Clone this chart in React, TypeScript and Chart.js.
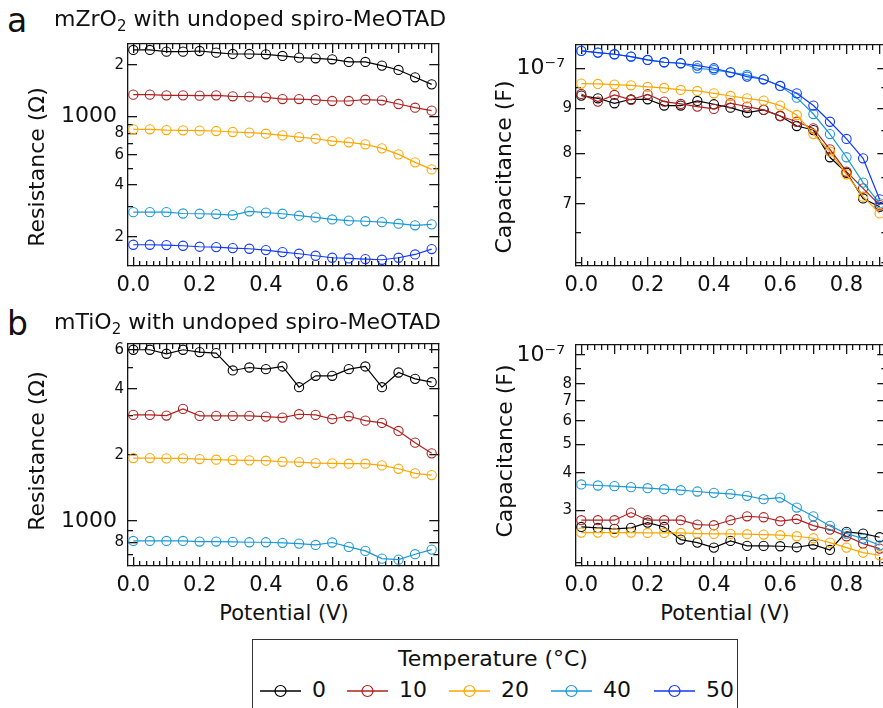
import React, { useEffect, useRef } from "react";
import { Chart, registerables } from "chart.js";

Chart.register(...registerables);

const FONT = "'DejaVu Sans', sans-serif";
const INK = "#141414";

// ---------------- data ----------------
const potential = [0, 0.05, 0.1, 0.15, 0.2, 0.25, 0.3, 0.35, 0.4, 0.45, 0.5, 0.55, 0.6, 0.65, 0.7, 0.75, 0.8, 0.85, 0.9];
const temperatureLabels = ["0", "10", "20", "40", "50"];
const seriesColors = ["#000000", "#b0201f", "#ffa600", "#1b98d6", "#1238ff"];

// a: mZrO2 – resistance (Ω)
const zrRes0 = [2446, 2446, 2392, 2392, 2413, 2360, 2318, 2318, 2308, 2257, 2207, 2187, 2158, 2083, 2083, 1983, 1871, 1695, 1543];
const zrRes10 = [1344, 1344, 1331, 1331, 1326, 1331, 1314, 1308, 1296, 1267, 1267, 1251, 1234, 1234, 1256, 1245, 1185, 1128, 1084];
const zrRes20 = [844, 844, 836, 833, 829, 825, 814, 807, 796, 778, 761, 744, 721, 709, 690, 654, 603, 542, 493];
const zrRes40 = [278, 278, 278, 273, 272, 271, 267, 281, 276, 272, 265, 259, 252, 248, 246, 243, 238, 233, 236];
const zrRes50 = [179.5, 179.5, 178.7, 177.1, 174.8, 174, 171.6, 170.1, 167.1, 162.7, 159.1, 154.9, 150.8, 149.4, 148.1, 146.8, 150.8, 157.6, 169.4];

// a: mZrO2 – capacitance (F)
const zrCap0 = [9.307e-8, 9.242e-8, 9.122e-8, 9.218e-8, 9.218e-8, 9.067e-8, 9.067e-8, 9.178e-8, 9.098e-8, 9.018e-8, 8.901e-8, 8.964e-8, 8.822e-8, 8.593e-8, 8.503e-8, 7.916e-8, 7.601e-8, 7.105e-8, 6.951e-8];
const zrCap10 = [9.348e-8, 9.162e-8, 9.323e-8, 9.202e-8, 9.34e-8, 9.162e-8, 9.106e-8, 9.043e-8, 8.988e-8, 9.122e-8, 9.043e-8, 8.964e-8, 8.822e-8, 8.69e-8, 8.54e-8, 8.083e-8, 7.623e-8, 7.296e-8, 6.982e-8];
const zrCap20 = [9.605e-8, 9.597e-8, 9.58e-8, 9.563e-8, 9.521e-8, 9.496e-8, 9.447e-8, 9.422e-8, 9.364e-8, 9.298e-8, 9.242e-8, 9.186e-8, 9.067e-8, 8.845e-8, 8.414e-8, 8.034e-8, 7.57e-8, 7.137e-8, 6.831e-8];
const zrCap40 = [1.0466e-7, 1.042e-7, 1.0375e-7, 1.0312e-7, 1.0221e-7, 1.0159e-7, 1.0132e-7, 1.0e-7, 9.956e-8, 9.895e-8, 9.826e-8, 9.715e-8, 9.546e-8, 9.258e-8, 8.868e-8, 8.414e-8, 7.916e-8, 7.406e-8, 7.013e-8];
const zrCap50 = [1.0466e-7, 1.042e-7, 1.0375e-7, 1.0312e-7, 1.0221e-7, 1.0159e-7, 1.0132e-7, 1.007e-7, 1.0e-7, 9.895e-8, 9.783e-8, 9.715e-8, 9.546e-8, 9.364e-8, 9.067e-8, 8.69e-8, 8.306e-8, 7.895e-8, 7.087e-8];

// b: mTiO2 – resistance (Ω)
const tiRes0 = [6016, 6016, 5768, 6016, 5870, 5809, 4841, 4995, 4909, 5048, 4062, 4577, 4577, 4909, 5048, 4062, 4740, 4434, 4281];
const tiRes10 = [3038, 3038, 3017, 3236, 3006, 3006, 3006, 3006, 2985, 2954, 3059, 3038, 2911, 2995, 2861, 2793, 2567, 2271, 2030];
const tiRes20 = [1932, 1932, 1925, 1925, 1912, 1899, 1892, 1886, 1879, 1859, 1853, 1834, 1827, 1821, 1821, 1789, 1727, 1645, 1616];
const tiRes40 = [810, 810, 810, 810, 805, 805, 802, 799, 799, 794, 788, 777, 797, 761, 730, 673, 666, 705, 740];

// b: mTiO2 – capacitance (F)
const tiCap0 = [2.634e-8, 2.614e-8, 2.594e-8, 2.614e-8, 2.724e-8, 2.634e-8, 2.388e-8, 2.332e-8, 2.244e-8, 2.363e-8, 2.273e-8, 2.273e-8, 2.267e-8, 2.25e-8, 2.297e-8, 2.203e-8, 2.534e-8, 2.502e-8, 2.431e-8];
const tiCap10 = [2.775e-8, 2.775e-8, 2.775e-8, 2.945e-8, 2.775e-8, 2.775e-8, 2.775e-8, 2.683e-8, 2.669e-8, 2.775e-8, 2.861e-8, 2.839e-8, 2.754e-8, 2.797e-8, 2.662e-8, 2.58e-8, 2.449e-8, 2.315e-8, 2.226e-8];
const tiCap20 = [2.521e-8, 2.521e-8, 2.521e-8, 2.521e-8, 2.514e-8, 2.514e-8, 2.514e-8, 2.502e-8, 2.495e-8, 2.495e-8, 2.489e-8, 2.483e-8, 2.47e-8, 2.45e-8, 2.412e-8, 2.332e-8, 2.244e-8, 2.158e-8, 2.114e-8];
const tiCap40 = [3.662e-8, 3.633e-8, 3.614e-8, 3.586e-8, 3.558e-8, 3.53e-8, 3.503e-8, 3.467e-8, 3.431e-8, 3.404e-8, 3.352e-8, 3.266e-8, 3.309e-8, 3.061e-8, 2.861e-8, 2.655e-8, 2.502e-8, 2.406e-8, 2.284e-8];

// axis ranges and ticks
const xMin = -0.016;
const xMax = 0.92;
const xMajorMarks = [0, 0.1, 0.2, 0.3, 0.4, 0.5, 0.6, 0.7, 0.8, 0.9];
const xMajorLabels = ["0.0", "", "0.2", "", "0.4", "", "0.6", "", "0.8", ""];
const xMinorMarks = [0.02, 0.04, 0.06, 0.08, 0.12, 0.14, 0.16, 0.18, 0.22, 0.24, 0.26, 0.28, 0.32, 0.34, 0.36, 0.38, 0.42, 0.44, 0.46, 0.48, 0.52, 0.54, 0.56, 0.58, 0.62, 0.64, 0.66, 0.68, 0.72, 0.74, 0.76, 0.78, 0.82, 0.84, 0.86, 0.88];

const zrResTicks = [200, 400, 600, 800, 1000, 2000];
const zrResTickLabels = ["2", "4", "6", "8", "1000 ", "2"];
const zrResMinor = [300, 500, 700, 900];

const zrCapTicks = [7e-8, 8e-8, 9e-8, 1e-7];
const zrCapTickLabels = ["7", "8", "9", "10\u207B\u2077 "];
const zrCapMinor = [6e-8, 6.5e-8, 7.5e-8, 8.5e-8, 9.5e-8];

const tiResTicks = [800, 1000, 2000, 4000, 6000];
const tiResTickLabels = ["8", "1000 ", "2", "4", "6"];
const tiResMinor = [700, 900, 3000, 5000];

const tiCapTicks = [3e-8, 4e-8, 5e-8, 6e-8, 7e-8, 8e-8, 1e-7];
const tiCapTickLabels = ["3", "4", "5", "6", "7", "8", "10\u207B\u2077 "];
const tiCapMinor = [2e-8, 9e-8];

const MAJOR_LEN = 9;
const MINOR_LEN = 5;

const zeroPad = (s: any) => {
  s.paddingLeft = 0;
  s.paddingRight = 0;
  s.paddingTop = 0;
  s.paddingBottom = 0;
};

// an extra, label-less axis used only to draw inward tick marks (and optionally a frame edge)
function markAxis(
  position: string,
  type: string,
  min: number,
  max: number,
  vals: number[],
  len: number,
  weight: number,
  withBorder: boolean
) {
  const horizontal = position === "top" || position === "bottom";
  return {
    type,
    position,
    min,
    max,
    weight,
    afterBuildTicks: (s: any) => {
      s.ticks = vals.map((v) => ({ value: v }));
    },
    afterFit: (s: any) => {
      if (horizontal) s.height = 0;
      else s.width = 0;
      zeroPad(s);
    },
    ticks: { display: false, autoSkip: false },
    grid: {
      display: true,
      drawOnChartArea: false,
      drawTicks: true,
      tickLength: -len,
      tickColor: INK,
      tickWidth: 1.3,
      color: INK,
      lineWidth: 1.3,
    },
    border: { display: withBorder, color: INK, width: 1.3 },
  };
}

type PanelProps = {
  left: number;
  top: number;
  width: number;
  height: number;
  padTop: number;
  yMin: number;
  yMax: number;
  yTicks: number[];
  yTickLabels: string[];
  yMinor: number[];
  series: number[][];
  colorIdx: number[];
};

function Panel(p: PanelProps) {
  const ref = useRef<HTMLCanvasElement | null>(null);
  useEffect(() => {
    if (!ref.current) return;
    const datasets = p.series.map((vals, i) => ({
      label: temperatureLabels[p.colorIdx[i]],
      data: potential.map((x, k) => ({ x, y: vals[k] })),
      xAxisID: "x",
      yAxisID: "y",
      borderColor: seriesColors[p.colorIdx[i]],
      backgroundColor: "rgba(0,0,0,0)",
      pointBackgroundColor: "rgba(0,0,0,0)",
      pointBorderColor: seriesColors[p.colorIdx[i]],
      pointRadius: 4.6,
      pointBorderWidth: 1.1,
      borderWidth: 1.2,
      tension: 0,
      clip: false as any,
      order: p.series.length - i,
    }));
    const chart = new Chart(ref.current, {
      type: "line",
      data: { datasets },
      options: {
        animation: false,
        responsive: false,
        maintainAspectRatio: false,
        devicePixelRatio: 1,
        layout: { padding: { top: p.padTop, right: 4, left: 0, bottom: 0 } },
        plugins: {
          legend: { display: false },
          tooltip: { enabled: false },
        },
        scales: {
          x: {
            type: "linear",
            position: "bottom",
            weight: 1,
            min: xMin,
            max: xMax,
            grid: {
              display: true,
              drawOnChartArea: false,
              drawTicks: true,
              tickLength: -MAJOR_LEN,
              tickColor: INK,
              tickWidth: 1.3,
              color: INK,
              lineWidth: 1.3,
            },
            border: { display: true, color: INK, width: 1.3 },
            afterBuildTicks: (s: any) => {
              s.ticks = xMajorMarks.map((v) => ({ value: v }));
            },
            afterFit: (s: any) => {
              s.height = 34;
              zeroPad(s);
            },
            ticks: {
              autoSkip: false,
              maxRotation: 0,
              padding: 7 + MAJOR_LEN,
              color: "#111",
              font: { family: FONT, size: 21 },
              callback: (_v: any, i: number) => xMajorLabels[i],
            },
          },
          y: {
            type: "logarithmic",
            position: "left",
            weight: 1,
            min: p.yMin,
            max: p.yMax,
            grid: {
              display: true,
              drawOnChartArea: false,
              drawTicks: true,
              tickLength: -MAJOR_LEN,
              tickColor: INK,
              tickWidth: 1.3,
              color: INK,
              lineWidth: 1.3,
            },
            border: { display: true, color: INK, width: 1.3 },
            afterBuildTicks: (s: any) => {
              s.ticks = p.yTicks.map((v) => ({ value: v }));
            },
            afterFit: (s: any) => {
              s.width = 80;
              zeroPad(s);
            },
            ticks: {
              autoSkip: false,
              padding: 4 + MAJOR_LEN,
              color: "#111",
              font: (ctx: any) => {
                const lab = ctx.tick ? p.yTickLabels[ctx.index] : "";
                const big = lab && lab.trim().length > 1;
                return { family: FONT, size: big ? 22 : 15 };
              },
              callback: (_v: any, i: number) => p.yTickLabels[i],
            },
          },
          xMinorBottom: markAxis("bottom", "linear", xMin, xMax, xMinorMarks, MINOR_LEN, 0, false),
          xMajorTop: markAxis("top", "linear", xMin, xMax, xMajorMarks, MAJOR_LEN, 0, true),
          xMinorTop: markAxis("top", "linear", xMin, xMax, xMinorMarks, MINOR_LEN, 1, false),
          yMinorLeft: markAxis("left", "logarithmic", p.yMin, p.yMax, p.yMinor, MINOR_LEN, 0, false),
          yMajorRight: markAxis("right", "logarithmic", p.yMin, p.yMax, p.yTicks, MAJOR_LEN, 0, true),
          yMinorRight: markAxis("right", "logarithmic", p.yMin, p.yMax, p.yMinor, MINOR_LEN, 1, false),
        } as any,
      },
    });
    return () => chart.destroy();
  }, []);
  return (
    <canvas
      ref={ref}
      width={p.width}
      height={p.height}
      style={{ position: "absolute", left: p.left, top: p.top, width: p.width, height: p.height }}
    />
  );
}

const txt = (extra: React.CSSProperties): React.CSSProperties => ({
  position: "absolute",
  whiteSpace: "nowrap",
  lineHeight: 1,
  fontFamily: FONT,
  color: "#111",
  ...extra,
});

function Heading({ top, letter, pre }: { top: number; letter: string; pre: string }) {
  return (
    <>
      <div style={txt({ left: 7, top: top - 3, fontSize: 33 })}>{letter}</div>
      <div style={txt({ left: 54, top: top + 1, fontSize: 22 })}>
        {pre}
        <span style={{ fontSize: 15, position: "relative", top: 5 }}>2</span> with undoped spiro-MeOTAD
      </div>
    </>
  );
}

function LegendItem({ x, color, label }: { x: number; color: string; label: string }) {
  return (
    <>
      <svg width={42} height={16} style={{ position: "absolute", left: x - 252, top: 43 }}>
        <line x1={0} y1={8} x2={41} y2={8} stroke={color} strokeWidth={1.3} />
        <circle cx={20.5} cy={8} r={5.5} fill="none" stroke={color} strokeWidth={1.2} />
      </svg>
      <div style={txt({ left: x - 252 + 52, top: 39, fontSize: 22 })}>{label}</div>
    </>
  );
}

export default function App() {
  const legendX = [259, 346, 448, 550, 653];
  return (
    <div
      style={{
        position: "fixed",
        left: 0,
        top: 0,
        width: 883,
        height: 708,
        overflow: "hidden",
        background: "#fff",
      }}
    >
      <Panel left={48} top={34} width={396} height={266} padTop={10} yMin={135} yMax={2650}
        yTicks={zrResTicks} yTickLabels={zrResTickLabels} yMinor={zrResMinor}
        series={[zrRes0, zrRes10, zrRes20, zrRes40, zrRes50]} colorIdx={[0, 1, 2, 3, 4]} />
      <Panel left={496} top={35} width={396} height={265} padTop={10} yMin={5.95e-8} yMax={1.063e-7}
        yTicks={zrCapTicks} yTickLabels={zrCapTickLabels} yMinor={zrCapMinor}
        series={[zrCap0, zrCap10, zrCap20, zrCap40, zrCap50]} colorIdx={[0, 1, 2, 3, 4]} />
      <Panel left={48} top={334} width={396} height={266} padTop={10} yMin={623} yMax={6390}
        yTicks={tiResTicks} yTickLabels={tiResTickLabels} yMinor={tiResMinor}
        series={[tiRes0, tiRes10, tiRes20, tiRes40]} colorIdx={[0, 1, 2, 3]} />
      <Panel left={496} top={335} width={396} height={265} padTop={10} yMin={1.945e-8} yMax={1.081e-7}
        yTicks={tiCapTicks} yTickLabels={tiCapTickLabels} yMinor={tiCapMinor}
        series={[tiCap0, tiCap10, tiCap20, tiCap40]} colorIdx={[0, 1, 2, 3]} />

      <Heading top={7} letter="a" pre="mZrO" />
      <Heading top={310} letter="b" pre="mTiO" />

      <div style={txt({ left: 37, top: 167, fontSize: 22, transform: "translate(-50%,-50%) rotate(-90deg)" })}>Resistance (Ω)</div>
      <div style={txt({ left: 504, top: 167, fontSize: 22, transform: "translate(-50%,-50%) rotate(-90deg)" })}>Capacitance (F)</div>
      <div style={txt({ left: 37, top: 451, fontSize: 22, transform: "translate(-50%,-50%) rotate(-90deg)" })}>Resistance (Ω)</div>
      <div style={txt({ left: 505, top: 451, fontSize: 22, transform: "translate(-50%,-50%) rotate(-90deg)" })}>Capacitance (F)</div>
      <div style={txt({ left: 284, top: 613, fontSize: 21, transform: "translate(-50%,-50%)" })}>Potential (V)</div>
      <div style={txt({ left: 725, top: 613, fontSize: 21, transform: "translate(-50%,-50%)" })}>Potential (V)</div>

      <div style={{ position: "absolute", left: 252, top: 639, width: 484, height: 100, border: "1.3px solid #333" }}>
        <div style={txt({ left: 240, top: 19, fontSize: 22, transform: "translate(-50%,-50%)" })}>Temperature (°C)</div>
        {temperatureLabels.map((t, i) => (
          <LegendItem key={t} x={legendX[i]} color={seriesColors[i]} label={t} />
        ))}
      </div>
    </div>
  );
}
